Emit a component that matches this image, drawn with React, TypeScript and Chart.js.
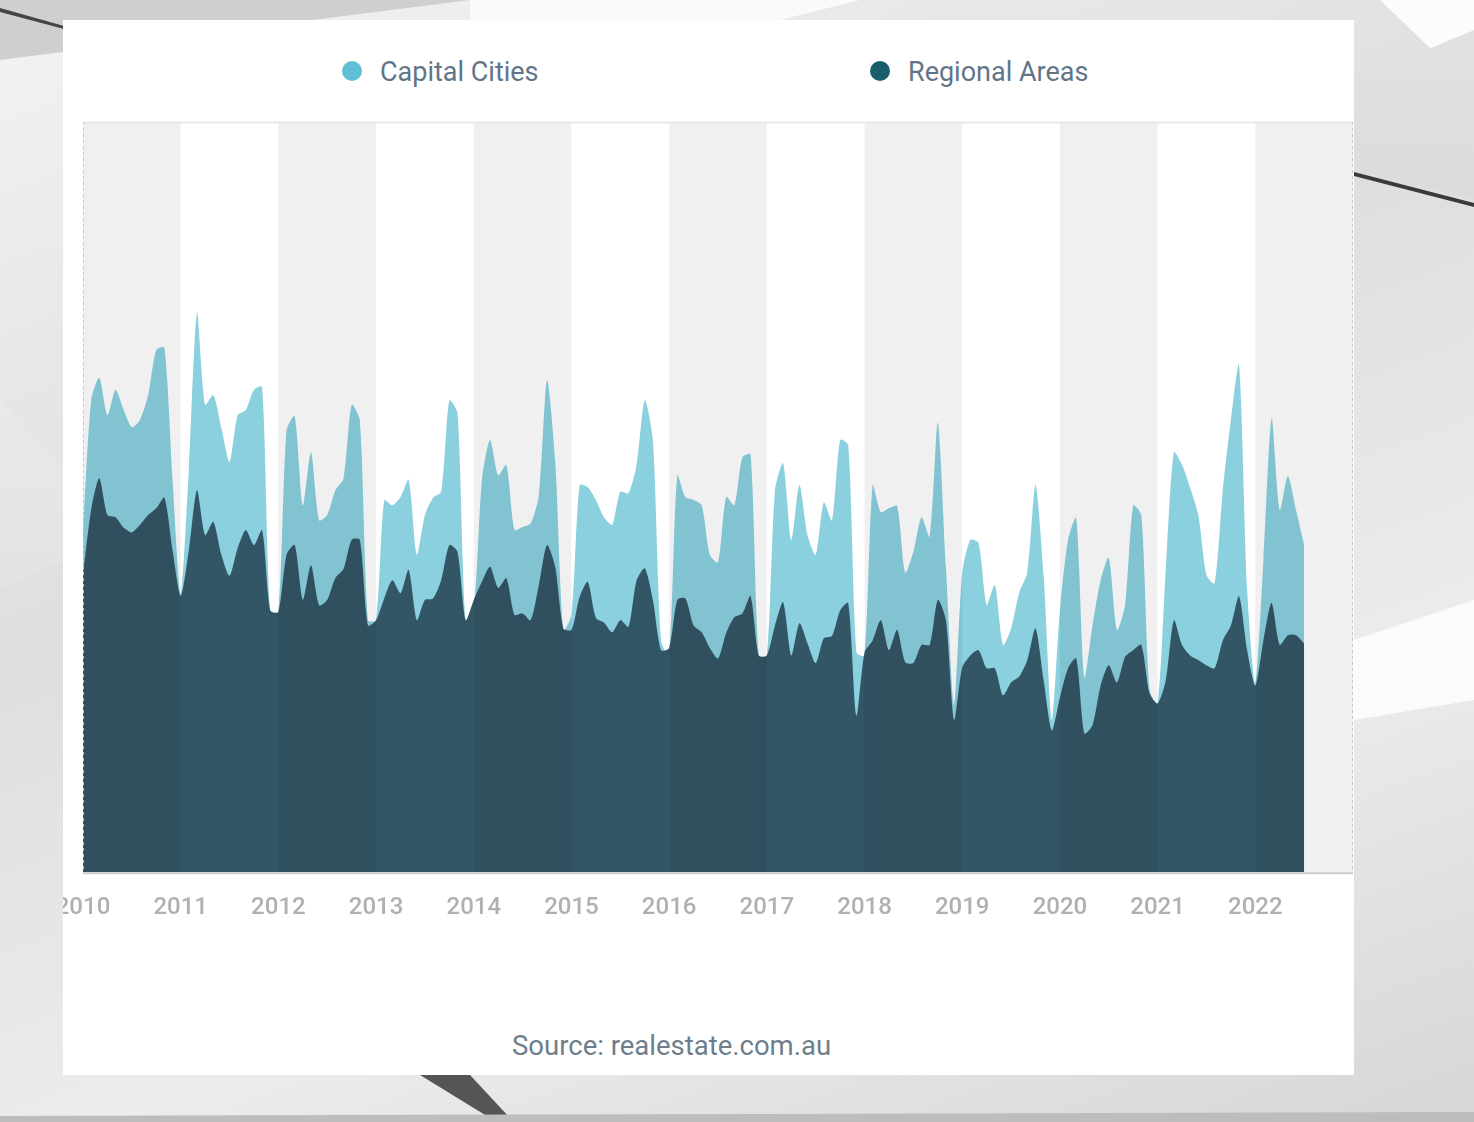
import { useEffect, useRef } from 'react'
import { Chart, registerables, type Plugin } from 'chart.js'

Chart.register(...registerables)

const START_YEAR = 2010
const END_YEAR = 2023
const yearTicks = [2010, 2011, 2012, 2013, 2014, 2015, 2016, 2017, 2018, 2019, 2020, 2021, 2022]

// monthly, Jan 2010 .. Jul 2022 (index score)
const capitalCities = [
  45.6, 62.9, 65.9, 60.9, 64.3, 61.6, 59.3, 60.3, 63.6, 69.6,
  69.9, 52.3, 37.1, 53.6, 74.5, 62.3, 63.6, 59.2, 54.7, 60.9,
  61.6, 64.3, 64.7, 34.9, 34.7, 58.9, 60.8, 48.9, 56.0, 46.9,
  47.6, 50.9, 52.5, 62.3, 60.3, 33.6, 33.6, 49.6, 48.9, 50.0,
  52.3, 42.3, 47.6, 49.9, 50.7, 62.9, 61.2, 33.6, 34.9, 52.3,
  57.6, 52.9, 54.3, 45.6, 46.0, 46.5, 50.3, 65.6, 54.9, 32.3,
  34.3, 51.6, 51.3, 49.6, 47.3, 46.3, 50.7, 50.5, 54.3, 62.9,
  57.6, 30.9, 28.9, 52.9, 50.0, 49.6, 48.9, 42.3, 41.3, 50.0,
  48.9, 55.3, 55.7, 28.9, 28.9, 50.9, 54.5, 44.3, 51.6, 44.9,
  42.3, 49.3, 46.9, 57.6, 56.9, 29.3, 28.9, 51.6, 48.0, 48.5,
  48.8, 39.9, 42.7, 47.3, 44.7, 59.9, 40.7, 22.3, 39.9, 44.3,
  43.9, 35.6, 38.3, 30.3, 32.5, 37.3, 39.9, 51.6, 39.6, 20.3,
  34.9, 44.3, 47.2, 26.0, 32.9, 38.9, 41.9, 32.3, 35.6, 48.9,
  47.6, 24.3, 22.5, 40.3, 56.0, 54.3, 51.2, 47.6, 39.6, 38.5,
  50.9, 60.3, 67.6, 37.6, 25.2, 41.6, 60.5, 48.3, 52.8, 48.3,
  43.6,
]

const regionalAreas = [
  39.6, 48.3, 52.5, 47.6, 47.3, 45.9, 45.3, 46.3, 47.6, 48.5,
  49.9, 42.9, 36.8, 42.9, 50.9, 44.9, 46.7, 42.3, 39.5, 43.2,
  45.6, 43.6, 45.6, 34.9, 34.7, 42.3, 43.6, 36.3, 40.9, 35.6,
  36.3, 39.2, 40.4, 44.3, 44.3, 32.9, 33.6, 36.5, 38.9, 37.2,
  40.3, 33.6, 36.3, 36.5, 38.9, 43.6, 42.7, 33.6, 36.3, 38.7,
  40.7, 37.9, 39.2, 34.3, 34.5, 33.6, 38.3, 43.6, 40.7, 32.5,
  32.3, 36.7, 38.7, 33.9, 33.3, 32.0, 33.6, 32.7, 38.9, 40.5,
  36.3, 29.6, 29.9, 36.3, 36.5, 32.9, 32.0, 29.9, 28.5, 31.9,
  34.0, 34.5, 36.8, 28.9, 28.9, 32.9, 36.0, 28.9, 33.2, 30.5,
  27.9, 31.2, 31.5, 34.9, 35.9, 20.9, 29.3, 30.9, 33.6, 29.6,
  32.3, 28.0, 27.9, 30.3, 30.3, 36.3, 33.6, 20.3, 27.3, 28.9,
  29.6, 27.2, 27.2, 23.6, 25.3, 26.1, 28.3, 32.5, 25.6, 18.9,
  23.3, 27.2, 28.5, 18.5, 19.6, 24.9, 27.6, 25.3, 28.7, 29.6,
  30.3, 23.9, 22.5, 25.6, 33.6, 30.3, 28.9, 28.3, 27.6, 27.2,
  30.9, 32.9, 36.8, 29.6, 24.9, 30.9, 35.9, 30.3, 31.6, 31.6,
  30.5,
]

const CAPITAL_FILL = '#8ad0de'
const REGIONAL_FILL = '#335667'
const CAPITAL_DOT = '#5fc0d6'
const REGIONAL_DOT = '#1a5e6c'
const LEGEND_TEXT = '#627587'
const TICK = '#b0b0b0'
const FONT = "Roboto, 'Noto Sans', sans-serif"

const toPoints = (vals: number[]) => vals.map((y, i) => ({ x: START_YEAR + i / 12, y }))

// alternating year bands are laid over the areas as a faint dark tint
const yearBands: Plugin<'line'> = {
  id: 'yearBands',
  afterDatasetsDraw(chart) {
    const { ctx, chartArea: a, scales } = chart
    const x = scales.x
    ctx.save()
    ctx.fillStyle = 'rgba(0,0,0,0.059)'
    for (let yr = START_YEAR; yr < END_YEAR; yr += 2) {
      const l = x.getPixelForValue(yr)
      const r = x.getPixelForValue(yr + 1)
      ctx.fillRect(l, a.top, r - l, a.bottom - a.top)
    }
    ctx.strokeStyle = '#e3e3e3'
    ctx.lineWidth = 1.5
    ctx.beginPath()
    ctx.moveTo(a.left, a.top + 0.5)
    ctx.lineTo(a.right, a.top + 0.5)
    ctx.stroke()

    ctx.strokeStyle = '#c4c4c4'
    ctx.lineWidth = 1
    ctx.setLineDash([3, 3])
    ctx.beginPath()
    ctx.moveTo(a.left + 0.5, a.top)
    ctx.lineTo(a.left + 0.5, a.bottom)
    ctx.moveTo(a.right - 0.5, a.top)
    ctx.lineTo(a.right - 0.5, a.bottom)
    ctx.stroke()

    ctx.setLineDash([])
    ctx.strokeStyle = '#c9cdd0'
    ctx.lineWidth = 2
    ctx.beginPath()
    ctx.moveTo(a.left, a.bottom + 1)
    ctx.lineTo(a.right, a.bottom + 1)
    ctx.stroke()
    ctx.restore()
  },
}

function AreaChart() {
  const canvasRef = useRef<HTMLCanvasElement>(null)
  const chartRef = useRef<Chart | null>(null)

  useEffect(() => {
    if (!canvasRef.current) return
    chartRef.current = new Chart(canvasRef.current, {
      type: 'line',
      data: {
        datasets: [
          {
            label: 'Capital Cities',
            data: toPoints(capitalCities),
            backgroundColor: CAPITAL_FILL,
            borderWidth: 0,
            pointRadius: 0,
            fill: 'origin',
            tension: 0.25,
            order: 2,
          },
          {
            label: 'Regional Areas',
            data: toPoints(regionalAreas),
            backgroundColor: REGIONAL_FILL,
            borderWidth: 0,
            pointRadius: 0,
            fill: 'origin',
            tension: 0.25,
            order: 1,
          },
        ],
      },
      options: {
        responsive: true,
        maintainAspectRatio: false,
        animation: false,
        layout: { padding: { left: 20, right: 1, top: 22, bottom: 0 } },
        plugins: {
          legend: { display: false },
          tooltip: { enabled: false },
        },
        scales: {
          x: {
            type: 'linear',
            min: START_YEAR,
            max: END_YEAR,
            grid: { display: false, drawTicks: false },
            border: { display: false },
            afterBuildTicks: (scale) => {
              scale.ticks = yearTicks.map((value) => ({ value }))
            },
            afterFit: (scale) => {
              scale.paddingLeft = 0
              scale.paddingRight = 0
            },
            ticks: {
              autoSkip: false,
              maxRotation: 0,
              padding: 21,
              color: TICK,
              font: { family: FONT, size: 24, weight: 500 },
              callback: (v) => String(v),
            },
          },
          y: {
            display: false,
            min: 0,
            max: 100,
          },
        },
      },
      plugins: [yearBands],
    })

    return () => {
      chartRef.current?.destroy()
      chartRef.current = null
    }
  }, [])

  return <canvas ref={canvasRef} />
}

function Dot({ color, left }: { color: string; left: number }) {
  return (
    <span
      style={{
        position: 'absolute',
        left,
        top: 41,
        width: 20,
        height: 20,
        borderRadius: '50%',
        background: color,
      }}
    />
  )
}

export default function App() {
  return (
    <div
      style={{
        position: 'absolute',
        left: 0,
        top: 0,
        width: 1474,
        height: 1122,
        overflow: 'hidden',
        background: 'linear-gradient(160deg, #f3f3f3 0%, #dedede 40%, #ececec 70%, #d6d6d6 100%)',
        fontFamily: FONT,
      }}
    >
      {/* abstract backdrop */}
      <div style={{ position: 'absolute', inset: 0, background: '#cfcfcf', clipPath: 'polygon(0 0, 470px 0, 0 60px)' }} />
      <div style={{ position: 'absolute', inset: 0, background: '#fafafa', clipPath: 'polygon(470px 0, 860px 0, 760px 25px, 470px 25px)' }} />
      <div style={{ position: 'absolute', inset: 0, background: '#444', clipPath: 'polygon(0 8px, 64px 26px, 64px 29px, 0 12px)' }} />
      <div style={{ position: 'absolute', inset: 0, background: 'linear-gradient(180deg,#f7f7f7,#d0d0d0)', clipPath: 'polygon(0 400px, 64px 470px, 64px 560px, 0 590px)' }} />
      <div style={{ position: 'absolute', inset: 0, background: '#fcfcfc', clipPath: 'polygon(1380px 0, 1474px 0, 1474px 90px)' }} />
      <div style={{ position: 'absolute', inset: 0, background: 'linear-gradient(180deg,#e2e2e2,#bdbdbd)', clipPath: 'polygon(1354px 80px, 1474px 30px, 1474px 200px, 1354px 170px)' }} />
      <div style={{ position: 'absolute', inset: 0, background: '#3a3a3a', clipPath: 'polygon(1354px 172px, 1474px 203px, 1474px 207px, 1354px 176px)' }} />
      <div style={{ position: 'absolute', inset: 0, background: '#fbfbfb', clipPath: 'polygon(1354px 640px, 1474px 600px, 1474px 700px, 1354px 720px)' }} />
      <div style={{ position: 'absolute', inset: 0, background: '#555', clipPath: 'polygon(420px 1075px, 470px 1075px, 510px 1118px, 490px 1118px)' }} />
      <div style={{ position: 'absolute', inset: 0, background: '#bdbdbd', clipPath: 'polygon(0 1116px, 1474px 1112px, 1474px 1122px, 0 1122px)' }} />

      <div
        style={{
          position: 'absolute',
          left: 63,
          top: 20,
          width: 1291,
          height: 1055,
          background: '#ffffff',
          overflow: 'hidden',
        }}
      >
        <Dot color={CAPITAL_DOT} left={279} />
        <span style={{ position: 'absolute', left: 317, top: 36, fontSize: 27, color: LEGEND_TEXT }}>Capital Cities</span>
        <Dot color={REGIONAL_DOT} left={807} />
        <span style={{ position: 'absolute', left: 845, top: 36, fontSize: 27, color: LEGEND_TEXT }}>Regional Areas</span>

        <div style={{ position: 'absolute', left: 0, top: 80, width: 1291, height: 843 }}>
          <AreaChart />
        </div>

        <span style={{ position: 'absolute', left: 449, top: 1009, fontSize: 27.5, color: '#6e7e8c' }}>
          Source: realestate.com.au
        </span>
      </div>
    </div>
  )
}
